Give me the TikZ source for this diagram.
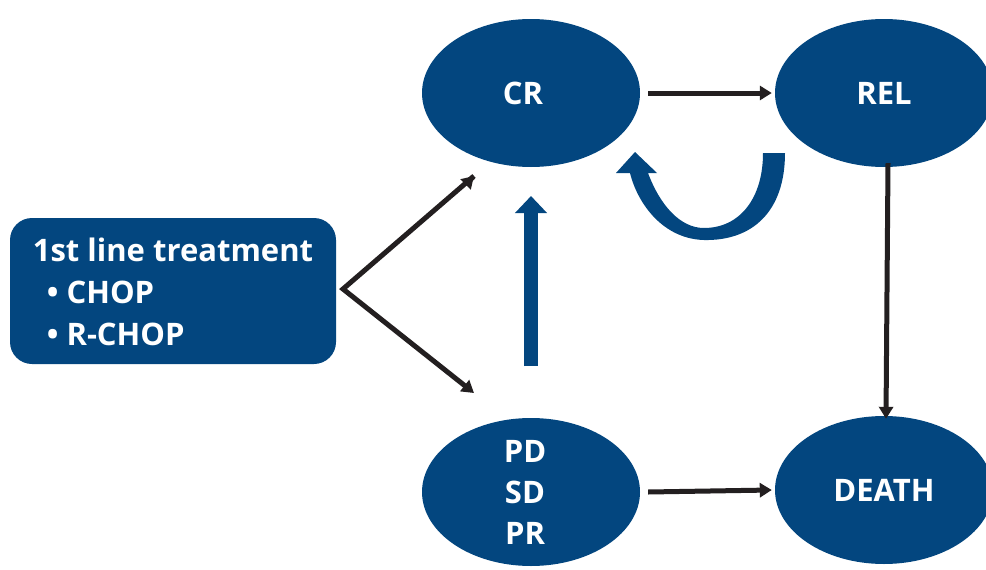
\documentclass[tikz,border=0pt]{standalone}
\usepackage{fontspec}
\setmainfont{Open Sans}
\usetikzlibrary{arrows.meta,shapes.geometric}
\definecolor{nblue}{HTML}{03467F}
\definecolor{ablack}{HTML}{231F20}
\begin{document}
\begin{tikzpicture}[x=1pt,y=-1pt,
  st/.style={ellipse, fill=nblue, minimum width=218pt, minimum height=148pt, inner sep=0pt,
    text=white, font=\fontsize{31}{41}\selectfont\bfseries, align=center},
  blk/.style={draw=ablack, line width=5pt, -{Triangle[length=12pt,width=14pt]}},
  bigarrow/.style={draw=nblue, line width=14pt, -{Triangle[length=17pt,width=31pt]}},
]
\useasboundingbox (0,0) rectangle (986,570);
\node[st] (cr) at (531,93) {\hspace*{-16pt}CR};
\node[st] (rel) at (884,93) {REL};
\node[st] (pd) at (531,492) {\hspace*{-12pt}PD\\\hspace*{-12pt}SD\\\hspace*{-12pt}PR};
\node[st] (death) at (884,490) {DEATH};
\node[fill=nblue, rounded corners=22pt, minimum width=326pt, minimum height=146pt,
  text=white, font=\fontsize{31}{42}\selectfont\bfseries, align=left] (box) at (173,291)
  {\rule{0pt}{26pt}1st line treatment\\\hspace{14pt}\textbullet\ CHOP\\\hspace{14pt}\textbullet\ R-CHOP};
\coordinate (fork) at (343,289);
\coordinate (crin) at (474,176);
\coordinate (pdin) at (474,393);
\coordinate (upstart) at (531,366);
\coordinate (uptip) at (531,196);
\draw[blk, line join=miter] (crin) -- (fork) -- (pdin);
\draw[blk] (crin) ++(-1,1) -- (crin);
\draw[blk] ([xshift=8pt]cr.east) -- ([xshift=-3pt]rel.west);
\draw[blk] ([xshift=8pt]pd.east) -- ([xshift=-3pt]death.west);
\draw[blk] ([yshift=4pt,xshift=4pt]rel.south) -- ([yshift=-3pt,xshift=2pt]death.north);
\draw[bigarrow] (upstart) -- (uptip);
\fill[nblue] (763,153) -- (785,153) .. controls (785,212) and (752,241) .. (704,240)
  .. controls (664,239) and (638,205) .. (630,173) -- (616,173) -- (635,152) -- (657,173)
  -- (648,173) .. controls (660,205) and (680,228) .. (704,228)
  .. controls (740,228) and (763,198) .. (763,153) -- cycle;
\end{tikzpicture}
\end{document}
